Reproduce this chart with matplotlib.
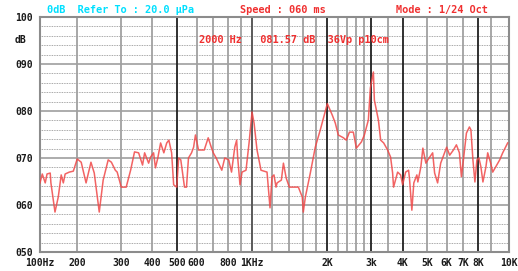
import matplotlib
matplotlib.use("Agg")
import matplotlib.pyplot as plt
from matplotlib.ticker import FixedLocator, NullFormatter

# 1/24 octave sweep
freq_hz = [142, 145, 149, 151.5, 156, 157, 163, 168, 172.6, 176,
           179, 186, 193, 200, 207.5, 217, 227, 234, 245, 254,
           266, 274, 284, 289, 300, 314, 327, 339, 352, 365,
           372, 386, 393, 404, 411, 420, 431, 444, 456, 465,
           477, 486, 500, 509, 519, 537, 547, 557, 573, 584,
           594, 611, 644, 668, 687, 700, 719, 757, 778, 807,
           828, 853, 868, 876, 895, 912, 946, 973, 1000, 1019,
           1047, 1086, 1148, 1180, 1202, 1224, 1247, 1259, 1310, 1335,
           1370, 1410, 1532, 1588, 1603, 1634, 1710, 1790, 1875, 2000,
           2094, 2153, 2212, 2319, 2382, 2451, 2541, 2613, 2736, 2813,
           2918, 2972, 3056, 3084, 3200, 3268, 3360, 3484, 3580, 3648,
           3680, 3820, 3927, 4000, 4112, 4227, 4266, 4355, 4434, 4560,
           4602, 4731, 4819, 4954, 5046, 5274, 5370, 5520, 5678, 5836,
           6000, 6168, 6384, 6563, 6747, 6872, 7000, 7196, 7398, 7501,
           7640, 7782, 7926, 8074, 8224, 8377, 8611, 8754, 9000, 9167,
           9511, 9777, 10050, 10520]
level_db = [64.7, 66.6, 64.7, 66.6, 66.8, 64.7, 58.5, 61.7, 66.4, 64.7,
            66.6, 67.0, 67.2, 69.8, 69.1, 64.7, 69.1, 66.8, 58.5, 65.3,
            69.6, 69.1, 67.4, 67.0, 63.8, 63.8, 67.4, 71.3, 71.1, 68.5,
            71.1, 68.9, 70.2, 71.1, 67.9, 70.0, 73.2, 71.1, 73.2, 73.8,
            71.1, 64.3, 63.8, 70.0, 69.6, 63.8, 63.8, 70.0, 71.1, 72.3,
            74.9, 71.7, 71.7, 74.3, 72.3, 71.1, 70.0, 67.4, 70.0, 69.6,
            67.0, 72.3, 73.8, 70.2, 64.3, 67.0, 67.4, 73.2, 79.8, 77.4,
            71.7, 67.4, 67.0, 59.4, 66.0, 66.4, 63.8, 64.7, 65.3, 68.9,
            65.7, 63.8, 63.8, 61.7, 58.5, 61.7, 66.8, 72.3, 76.0, 81.57,
            79.1, 77.4, 74.9, 74.3, 73.8, 75.5, 75.5, 72.1, 73.4, 74.9,
            78.1, 84.9, 88.3, 82.3, 78.1, 73.8, 73.2, 71.7, 70.2, 66.8,
            63.8, 67.0, 66.4, 64.3, 67.0, 67.4, 65.3, 58.9, 64.7, 66.4,
            64.9, 68.1, 72.1, 68.9, 69.6, 71.1, 66.8, 64.7, 68.9, 70.6,
            72.3, 70.6, 71.7, 72.8, 71.1, 66.0, 69.6, 75.3, 76.6, 76.0,
            69.6, 64.9, 69.6, 70.0, 68.1, 64.9, 68.1, 71.1, 68.9, 67.0,
            68.5, 69.6, 71.1, 73.2]

x_min, x_max = 142, 10650
x_ticks = [x_min, 200, 300, 400, 500, 600, 800, 1000, 2000, 3000,
           4000, 5000, 6000, 7000, 8000, x_max]
x_labels = ["100Hz", "200", "300", "400", "500", "600", "800", "1KHz", "2K", "3k",
            "4K", "5K", "6K", "7K", "8K", "10K"]
grid_gray = [200, 300, 400, 600, 700, 800, 900, 1200, 1400, 1600, 1800,
             2200, 2400, 2600, 2800, 3500, 5000, 6000, 7000, 9000]
grid_dark = [500, 2000, 3000, 4000, 8000]
grid_mid = [1000]
y_major = [50, 60, 70, 80, 90, 100]
y_minor = [52, 54, 56, 58, 62, 64, 66, 68, 72, 74, 76, 78, 82, 84, 86, 88, 92, 94, 96, 98]

MONO = "DejaVu Sans Mono"
W, H = 518, 271

fig = plt.figure(figsize=(W / 100, H / 100), dpi=100)
ax = fig.add_axes([40 / W, 19 / H, 469 / W, 235 / H])
ax.set_xscale("log")
ax.set_xlim(x_min, x_max)
ax.set_ylim(50, 100)

for y in y_minor:
    ax.axhline(y, color="#8a8a8a", lw=0.6, ls=(0, (1, 1)), zorder=1)
for y in y_major[1:-1]:
    ax.axhline(y, color="#a6a6a6", lw=1.3, zorder=1)
for f in grid_gray:
    ax.axvline(f, color="#a0a0a0", lw=1.3, zorder=1.5)
for f in grid_mid:
    ax.axvline(f, color="#5a5a5a", lw=1.4, zorder=1.5)
for f in grid_dark:
    ax.axvline(f, color="#202020", lw=1.3, zorder=1.5)

ax.plot(freq_hz, level_db, color="#f04848", lw=1.1, alpha=0.85, zorder=3)

ax.xaxis.set_major_locator(FixedLocator(x_ticks))
ax.set_xticklabels(x_labels)
ax.xaxis.set_minor_locator(FixedLocator([]))
ax.xaxis.set_minor_formatter(NullFormatter())
ax.set_yticks(y_major)
ax.set_yticklabels(["%03d" % v for v in y_major])
ax.tick_params(length=0, labelsize=7)
ax.tick_params(axis="y", pad=5)
ax.tick_params(axis="x", pad=4)
for lab in ax.get_xticklabels() + ax.get_yticklabels():
    lab.set_fontfamily(MONO)
    lab.set_fontweight("bold")
    lab.set_color("#1a1a1a")

for s in ax.spines.values():
    s.set_color("#8c8c8c")
    s.set_linewidth(1.5)

fig.text(15 / W, 1 - 40 / H, "dB", fontsize=7, family=MONO, weight="bold",
         color="#1a1a1a", ha="left", va="center")
fig.text(47 / W, 1 - 10 / H, "0dB  Refer To : 20.0 \u03bcPa", fontsize=7.4, family=MONO,
         weight="bold", color="#00e0ff", ha="left", va="center")
fig.text(240 / W, 1 - 10 / H, "Speed : 060 ms", fontsize=7.4, family=MONO,
         weight="bold", color="#f03030", ha="left", va="center")
fig.text(396 / W, 1 - 10 / H, "Mode : 1/24 Oct", fontsize=7.4, family=MONO,
         weight="bold", color="#f03030", ha="left", va="center")
fig.text(199 / W, 1 - 40 / H, "2000 Hz   081.57 dB  36Vp p10cm", fontsize=7.4, family=MONO,
         weight="bold", color="#f03030", ha="left", va="center", zorder=5)

fig.savefig("out.png", dpi=100)
